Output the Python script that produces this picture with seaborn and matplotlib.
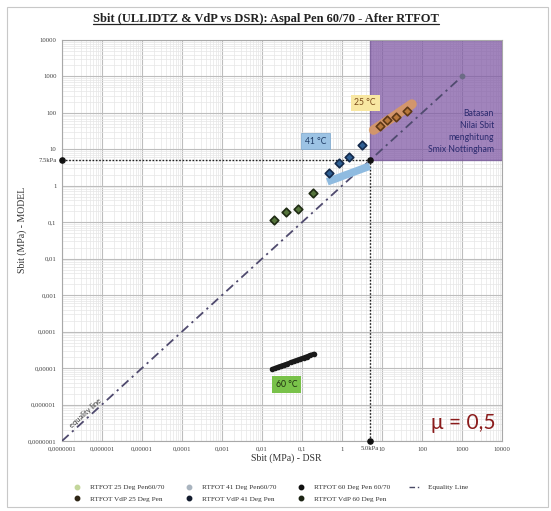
import matplotlib
matplotlib.use("Agg")
import matplotlib.pyplot as plt
import seaborn as sns
import pandas as pd
from matplotlib.lines import Line2D
from matplotlib.patches import Rectangle
from matplotlib.ticker import FixedLocator, FixedFormatter, LogLocator, NullFormatter
from matplotlib import transforms

# ---------------- data ----------------
decade_ticks = [1e-7, 1e-6, 1e-5, 1e-4, 1e-3, 1e-2, 1e-1, 1, 10, 100, 1000, 10000]
x_tick_labels = ["0,0000001", "0,000001", "0,00001", "0,0001", "0,001", "0,01",
                 "0,1", "1", "10", "100", "1000", "10000"]
y_tick_labels = ["0,0000001", "0,000001", "0,00001", "0,0001", "0,001", "0,01",
                 "0,1", "1", "10", "100", "1000", "10000"]
limit_x = 5.0
limit_x_label = "5.0kPa"
limit_y = 5.0
limit_y_label = "7.5kPa"

vdp25_x = [8.7, 13.2, 22, 42]
vdp25_y = [44, 64, 79, 113]
vdp41_x = [0.47, 0.84, 1.5, 3.1]
vdp41_y = [2.2, 4.1, 6.3, 13.2]
vdp60_x = [0.020, 0.041, 0.078, 0.19]
vdp60_y = [0.115, 0.19, 0.23, 0.63]

ull25_x = [6.2, 8, 10, 13, 17, 22, 28, 36, 45, 56]
ull25_y = [34, 41, 48, 59, 71, 86, 104, 125, 147, 174]
ull41_x = [0.43, 0.55, 0.7, 0.9, 1.15, 1.5, 1.9, 2.4, 3.1, 4.0, 5.0]
ull41_y = [1.29, 1.43, 1.57, 1.74, 1.93, 2.14, 2.36, 2.59, 2.88, 3.19, 3.49]
ull60_x = [0.018, 0.021, 0.025, 0.03, 0.036, 0.043, 0.052, 0.062, 0.075, 0.09,
           0.11, 0.13, 0.16, 0.2]
ull60_y = [9.3e-6, 9.9e-6, 1.07e-5, 1.15e-5, 1.23e-5, 1.32e-5, 1.43e-5, 1.53e-5,
           1.66e-5, 1.78e-5, 1.93e-5, 2.07e-5, 2.25e-5, 2.45e-5]
equality_x = [1e-7, 1000]
equality_y = [1e-7, 1000]

legend_labels = ["RTFOT 25 Deg Pen60/70", "RTFOT 41 Deg Pen60/70",
                 "RTFOT 60 Deg Pen 60/70", "Equality Line",
                 "RTFOT VdP 25 Deg Pen", "RTFOT VdP 41 Deg Pen", "RTFOT VdP 60 Deg Pen"]

# ---------------- figure ----------------
sns.set_theme(style="white")
plt.rcParams['font.family'] = ['Liberation Serif', 'DejaVu Serif']

fig = plt.figure(figsize=(5.51, 5.11), dpi=100)
ax = fig.add_axes([0.1125, 0.137, 0.7985, 0.7847])
ax.set_xscale('log')
ax.set_yscale('log')
xmin, xmax = decade_ticks[0], decade_ticks[-1]
ax.set_xlim(xmin, xmax)
ax.set_ylim(xmin, xmax)

# ticks / grid
for axis, labels in ((ax.xaxis, x_tick_labels), (ax.yaxis, y_tick_labels)):
    axis.set_major_locator(FixedLocator(decade_ticks))
    axis.set_major_formatter(FixedFormatter(labels))
    axis.set_minor_locator(LogLocator(base=10, subs=range(2, 10), numticks=100))
    axis.set_minor_formatter(NullFormatter())
ax.tick_params(which='both', length=0, labelsize=4.8, colors='#404040', pad=4)
ax.grid(which='major', color='#bdbdbd', lw=0.8, zorder=0)
ax.grid(which='minor', color='#e6e6e6', lw=0.5, zorder=0)
ax.set_axisbelow(True)
for s in ax.spines.values():
    s.set_color('#a8a8a8')
    s.set_linewidth(0.8)

# purple region
ax.fill_between([limit_x, xmax], limit_y, xmax, color='#7d55a3', alpha=0.72,
                lw=1.0, edgecolor='#6a4a8e', zorder=1)

# limit dotted lines
ax.plot([xmin, limit_x], [limit_y, limit_y], ls=(0, (1.2, 1.2)), color='#222222', lw=1.0, zorder=3)
ax.plot([limit_x, limit_x], [xmin, limit_y], ls=(0, (1.2, 1.2)), color='#222222', lw=1.0, zorder=3)
ax.scatter([xmin, limit_x, limit_x], [limit_y, xmin, limit_y], s=14, color='#111111',
           zorder=6, clip_on=False)

# equality line
sns.lineplot(x=equality_x, y=equality_y, ax=ax, color='#4f4a6e', lw=1.3,
             dashes=False, zorder=4, estimator=None, sort=False)
ax.lines[-1].set_dashes([5, 2.5, 1.2, 2.5])
ax.scatter([equality_x[-1]], [equality_y[-1]], s=10, color='#6b6b85', zorder=5)

# ULLIDTZ bands
sns.lineplot(x=ull25_x, y=ull25_y, ax=ax, color='#dc9a5e', lw=7, alpha=0.85,
             estimator=None, sort=False, zorder=5)
ax.lines[-1].set_solid_capstyle('round')
sns.lineplot(x=ull41_x, y=ull41_y, ax=ax, color='#8fbbe0', lw=5.5,
             estimator=None, sort=False, zorder=5)
ax.lines[-1].set_solid_capstyle('butt')
sns.lineplot(x=ull60_x, y=ull60_y, ax=ax, color='#1a1a1a', lw=3.2,
             estimator=None, sort=False, zorder=5)
sns.scatterplot(x=ull60_x, y=ull60_y, ax=ax, color='#1a1a1a', s=16, marker='o',
                linewidth=0, zorder=6)

# VdP diamonds
for xs, ys, fc, ec in ((vdp25_x, vdp25_y, '#b8783c', '#5e3816'),
                       (vdp41_x, vdp41_y, '#2f5f93', '#13294a'),
                       (vdp60_x, vdp60_y, '#55743c', '#1f2b14')):
    sns.scatterplot(x=xs, y=ys, ax=ax, marker='D', s=19, color=fc,
                    edgecolor=ec, linewidth=1.2, zorder=7)

# limit labels on axes
ax.text(limit_x, -0.012, limit_x_label, transform=transforms.blended_transform_factory(ax.transData, ax.transAxes),
        ha='center', va='top', fontsize=4.8, color='#404040')
ax.text(-0.012, limit_y, limit_y_label, transform=transforms.blended_transform_factory(ax.transAxes, ax.transData),
        ha='right', va='center', fontsize=4.8, color='#404040')

# annotation boxes
sans = ['Lato', 'DejaVu Sans']
ax.text(0.689, 0.843, "25 \u00b0C", transform=ax.transAxes, ha='center', va='center',
        fontsize=6.2, color='#7a4a1a', family=sans, zorder=8,
        bbox=dict(boxstyle='square,pad=0.45', fc='#f8e7a2', ec='none'))
ax.text(0.577, 0.748, "41 \u00b0C", transform=ax.transAxes, ha='center', va='center',
        fontsize=6.2, color='#1d3a63', family=sans, zorder=8,
        bbox=dict(boxstyle='square,pad=0.45', fc='#9cc3e4', ec='#7aa6cc', lw=0.5))
ax.text(0.511, 0.140, "60 \u00b0C", transform=ax.transAxes, ha='center', va='center',
        fontsize=6.2, color='#1e2e10', family=sans, zorder=8,
        bbox=dict(boxstyle='square,pad=0.45', fc='#79c24a', ec='none'))
ax.text(0.982, 0.772, "Batasan\nNilai Sbit\nmenghitung\nSmix Nottingham", transform=ax.transAxes,
        ha='right', va='center', fontsize=6.2, color='#2b2a6e', family=sans,
        linespacing=1.45, zorder=8)
ax.text(0.912, 0.044, "\u03bc = 0,5", transform=ax.transAxes, ha='center', va='center',
        fontsize=15, color='#8b1c1c', family=sans, zorder=8)
ax.text(0.054, 0.07, "equality line", transform=ax.transAxes, ha='center', va='center',
        fontsize=5.4, color='#333333', family=sans, rotation=42, zorder=8)

# axis labels
fig.text(0.52, 0.103, "Sbit (MPa) - DSR", ha='center', va='center', fontsize=7, color='#333333')
fig.text(0.04, 0.55, "Sbit (MPa) - MODEL", ha='center', va='center', fontsize=7,
         color='#333333', rotation=90)

# title with underline
title = fig.text(0.483, 0.962, "Sbit (ULLIDTZ & VdP vs DSR): Aspal Pen 60/70 - After RTFOT",
                 ha='center', va='center', fontsize=9, fontweight='bold', color='#222222')

# legend
h = [Line2D([], [], marker='o', ls='none', color='#c3d69b', ms=3.2),
     Line2D([], [], marker='o', ls='none', color='#a9b4bf', ms=3.2),
     Line2D([], [], marker='o', ls='none', color='#111111', ms=3.2),
     Line2D([], [], color='#4a4a66', lw=1.0, dashes=[4, 2, 1, 2]),
     Line2D([], [], marker='o', ls='none', color='#2e2616', ms=3.2),
     Line2D([], [], marker='o', ls='none', color='#131c2e', ms=3.2),
     Line2D([], [], marker='o', ls='none', color='#1c2414', ms=3.2)]
order = [0, 4, 1, 5, 2, 6, 3]
fig.legend([h[i] for i in order], [legend_labels[i] for i in order], ncol=4,
           loc='center', bbox_to_anchor=(0.49, 0.035), frameon=False, fontsize=5.2,
           handlelength=1.6, handletextpad=1.0, columnspacing=2.6, labelspacing=0.75,
           labelcolor='#333333')

# figure border
fig.patches.append(Rectangle((0.012, 0.008), 0.983, 0.978, transform=fig.transFigure,
                             fill=False, ec='#c8c8c8', lw=0.8))

fig.canvas.draw()
bb = title.get_window_extent().transformed(fig.transFigure.inverted())
fig.add_artist(Line2D([bb.x0, bb.x1], [bb.y0 + 0.002, bb.y0 + 0.002], transform=fig.transFigure,
                      color='#222222', lw=0.9))

fig.savefig("out.png", dpi=100)
